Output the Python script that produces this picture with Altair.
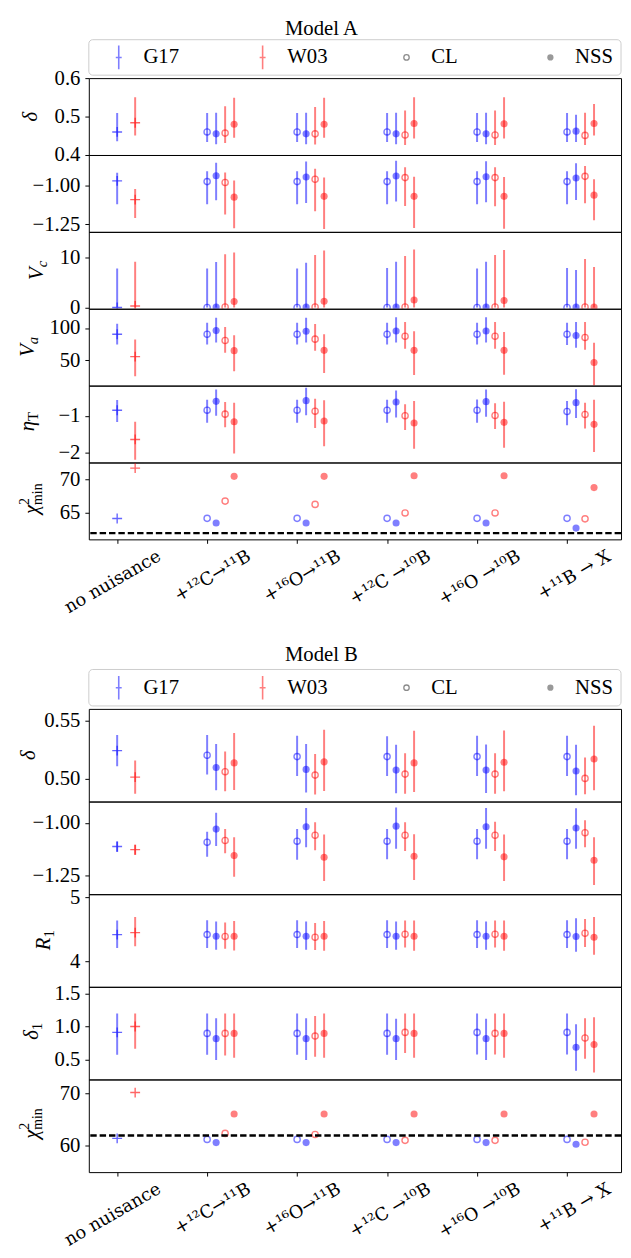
import json
import altair as alt
import pandas as pd

FONT = "Liberation Serif"
XFONT = "DejaVu Serif"
W = 540
H_A = 78
H_B = 94
X_DOMAIN = [-0.315, 5.6]
LEG_DOMAIN = [-0.208, 3.491]
REF_CHI2 = 62.0

categories = ["no nuisance", "+¹²C→¹¹B", "+¹⁶O→¹¹B", "+¹²C →¹⁰B", "+¹⁶O →¹⁰B", "+¹¹B → X"]
legend_labels = ["G17", "W03", "CL", "NSS"]
dataset_names = ["G17", "W03"]
dataset_colors = ["#0000ff", "#ff0000"]

# ---------------- Model A (center, low, high) ----------------
A_delta_nn = [(0.460, 0.436, 0.509), (0.484, 0.451, 0.550)]
A_delta_G17_CL = [(0.460, 0.434, 0.509)] * 5
A_delta_G17_NSS = [(0.455, 0.428, 0.510), (0.455, 0.428, 0.510), (0.455, 0.428, 0.510), (0.455, 0.428, 0.510), (0.462, 0.434, 0.505)]
A_delta_W03_CL = [(0.457, 0.431, 0.527), (0.455, 0.427, 0.525), (0.452, 0.426, 0.516), (0.452, 0.426, 0.516), (0.451, 0.426, 0.510)]
A_delta_W03_NSS = [(0.480, 0.445, 0.549), (0.480, 0.445, 0.549), (0.482, 0.443, 0.550), (0.481, 0.443, 0.550), (0.482, 0.451, 0.533)]

A_p2_nn = [(-0.968, -1.120, -0.916), (-1.090, -1.210, -1.021)]
A_p2_G17_CL = [(-0.973, -1.120, -0.905)] * 5
A_p2_G17_NSS = [(-0.935, -1.095, -0.851), (-0.943, -1.112, -0.842), (-0.937, -1.103, -0.838), (-0.941, -1.107, -0.840), (-0.950, -1.092, -0.853)]
A_p2_W03_CL = [(-0.979, -1.187, -0.914), (-0.958, -1.166, -0.889), (-0.947, -1.132, -0.880), (-0.947, -1.134, -0.880), (-0.939, -1.113, -0.872)]
A_p2_W03_NSS = [(-1.074, -1.277, -0.966), (-1.069, -1.282, -0.947), (-1.069, -1.275, -0.941), (-1.069, -1.279, -0.943), (-1.061, -1.225, -0.958)]

A_Vc_nn = [(0.0, 0.0, 7.8), (0.3, 0.0, 9.15)]
A_Vc_G17_CL = [(0.0, 0.0, 7.8), (0.0, 0.0, 7.8), (0.0, 0.0, 7.9), (0.0, 0.0, 7.8), (0.0, 0.0, 7.9)]
A_Vc_G17_NSS = [(0.1, 0.0, 9.1), (0.1, 0.0, 8.95), (0.1, 0.0, 9.15), (0.1, 0.0, 9.15), (0.1, 0.0, 7.5)]
A_Vc_W03_CL = [(0.1, 0.0, 10.65), (0.1, 0.0, 10.5), (0.1, 0.0, 10.3), (0.1, 0.0, 10.5), (0.1, 0.0, 9.7)]
A_Vc_W03_NSS = [(1.2, 0.0, 11.0), (1.25, 0.0, 11.4), (1.5, 0.0, 11.6), (1.4, 0.0, 11.5), (0.1, 0.0, 8.1)]

A_Va_nn = [(90.3, 74.5, 106.6), (55.6, 25.0, 82.1)]
A_Va_G17_CL = [(90.3, 74.5, 108.2), (90.3, 74.5, 108.2), (90.3, 74.5, 108.2), (90.3, 74.5, 108.2), (90.3, 73.5, 108.2)]
A_Va_G17_NSS = [(95.9, 77.6, 115.8), (94.9, 77.6, 115.8), (95.4, 77.6, 116.8), (95.4, 77.6, 116.8), (88.3, 69.4, 109.2)]
A_Va_W03_CL = [(80.6, 61.7, 101.5), (82.7, 64.8, 106.1), (87.2, 67.9, 109.2), (87.2, 67.9, 109.2), (85.2, 66.3, 109.2)]
A_Va_W03_NSS = [(64.8, 32.7, 88.8), (65.3, 30.1, 90.3), (65.3, 27.0, 94.9), (65.3, 27.5, 93.9), (46.4, 10.7, 77.0)]

A_eta_nn = [(-0.848, -1.170, -0.571), (-1.643, -2.196, -1.161)]
A_eta_G17_CL = [(-0.848, -1.188, -0.563), (-0.848, -1.188, -0.563), (-0.848, -1.188, -0.563), (-0.848, -1.188, -0.554), (-0.884, -1.259, -0.598)]
A_eta_G17_NSS = [(-0.607, -1.000, -0.286), (-0.589, -0.982, -0.241), (-0.625, -1.045, -0.313), (-0.616, -1.027, -0.286), (-0.643, -1.063, -0.277)]
A_eta_W03_CL = [(-0.955, -1.313, -0.625), (-0.875, -1.330, -0.536), (-1.000, -1.384, -0.688), (-0.991, -1.357, -0.661), (-0.964, -1.348, -0.643)]
A_eta_W03_NSS = [(-1.161, -2.027, -0.643), (-1.143, -1.830, -0.580), (-1.196, -1.893, -0.598), (-1.179, -1.866, -0.616), (-1.232, -1.982, -0.563)]

A_chi2_nn = [64.17, 71.67]
A_chi2_G17_CL = [64.2, 64.2, 64.2, 64.2, 64.2]
A_chi2_G17_NSS = [63.5, 63.5, 63.5, 63.5, 62.75]
A_chi2_W03_CL = [66.76, 66.27, 65.0, 65.0, 64.12]
A_chi2_W03_NSS = [70.44, 70.44, 70.54, 70.54, 68.77]

# ---------------- Model B ----------------
B_delta_nn = [(0.5241, 0.5108, 0.5375), (0.5014, 0.4872, 0.5156)]
B_delta_G17_CL = [(0.5202, 0.5037, 0.5375), (0.519, 0.5023, 0.5369), (0.519, 0.5023, 0.5366), (0.519, 0.5023, 0.5369), (0.519, 0.5023, 0.5369)]
B_delta_G17_NSS = [(0.5097, 0.4901, 0.5298), (0.5080, 0.4881, 0.5298), (0.5074, 0.4875, 0.5293), (0.5074, 0.4878, 0.5295), (0.5066, 0.4858, 0.5293)]
B_delta_W03_CL = [(0.5060, 0.4892, 0.5233), (0.5031, 0.4864, 0.5213), (0.5040, 0.4872, 0.5219), (0.5040, 0.4872, 0.5219), (0.5003, 0.4866, 0.5182)]
B_delta_W03_NSS = [(0.5136, 0.4903, 0.5392), (0.5145, 0.4895, 0.5420), (0.5136, 0.4886, 0.5412), (0.5142, 0.4892, 0.5415), (0.5170, 0.4901, 0.5455)]

B_p2_nn = [(-1.112, -1.138, -1.0885), (-1.127, -1.152, -1.104)]
B_p2_G17_CL = [(-1.092, -1.161, -1.042), (-1.087, -1.174, -1.030), (-1.087, -1.172, -1.030), (-1.087, -1.172, -1.030), (-1.087, -1.172, -1.030)]
B_p2_G17_NSS = [(-1.030, -1.110, -0.953), (-1.019, -1.116, -0.930), (-1.016, -1.123, -0.928), (-1.019, -1.123, -0.930), (-1.025, -1.123, -0.932)]
B_p2_W03_CL = [(-1.084, -1.144, -1.030), (-1.059, -1.130, -0.998), (-1.059, -1.133, -0.998), (-1.059, -1.133, -0.995), (-1.047, -1.116, -0.988)]
B_p2_W03_NSS = [(-1.155, -1.255, -1.068), (-1.163, -1.275, -1.056), (-1.158, -1.270, -1.054), (-1.161, -1.275, -1.056), (-1.177, -1.294, -1.068)]

B_R1_nn = [(4.418, 4.206, 4.639), (4.448, 4.237, 4.691)]
B_R1_G17_CL = [(4.418, 4.206, 4.644)] * 5
B_R1_G17_NSS = [(4.392, 4.180, 4.624), (4.392, 4.180, 4.624), (4.392, 4.180, 4.624), (4.392, 4.180, 4.624), (4.387, 4.149, 4.675)]
B_R1_W03_CL = [(4.387, 4.196, 4.608), (4.376, 4.175, 4.598), (4.423, 4.216, 4.639), (4.423, 4.216, 4.639), (4.438, 4.222, 4.660)]
B_R1_W03_NSS = [(4.392, 4.170, 4.629), (4.392, 4.165, 4.629), (4.392, 4.165, 4.639), (4.392, 4.165, 4.639), (4.376, 4.103, 4.691)]

B_delta1_nn = [(0.911, 0.574, 1.198), (1.000, 0.663, 1.198)]
B_delta1_G17_CL = [(0.896, 0.574, 1.198), (0.896, 0.574, 1.198), (0.896, 0.574, 1.198), (0.911, 0.579, 1.198), (0.911, 0.579, 1.198)]
B_delta1_G17_NSS = [(0.817, 0.495, 1.124), (0.817, 0.495, 1.124), (0.817, 0.495, 1.119), (0.817, 0.495, 1.119), (0.688, 0.332, 1.035)]
B_delta1_W03_CL = [(0.896, 0.564, 1.198), (0.856, 0.545, 1.158), (0.911, 0.599, 1.198), (0.896, 0.579, 1.198), (0.827, 0.515, 1.124)]
B_delta1_W03_NSS = [(0.896, 0.530, 1.198), (0.896, 0.530, 1.198), (0.896, 0.530, 1.198), (0.896, 0.530, 1.198), (0.728, 0.307, 1.139)]

B_chi2_nn = [61.44, 70.2]
B_chi2_G17_CL = [61.25, 61.25, 61.25, 61.25, 61.25]
B_chi2_G17_NSS = [60.64, 60.64, 60.64, 60.64, 60.32]
B_chi2_W03_CL = [62.4, 62.2, 61.07, 61.07, 60.7]
B_chi2_W03_NSS = [66.1, 66.1, 66.1, 66.1, 66.1]


def build(nn, g_cl, g_nss, w_cl, w_nss):
    rows = []

    def add(x, ds, kind, val):
        if isinstance(val, (tuple, list)):
            c, lo, hi = val
        else:
            c, lo, hi = val, None, None
        rows.append({"x": x, "ds": ds, "kind": kind, "v": c, "lo": lo, "hi": hi})

    add(0.0, "G17", "nn", nn[0])
    add(0.2, "W03", "nn", nn[1])
    for ds, kind, off, series in [("G17", "CL", 0.0, g_cl), ("G17", "NSS", 0.1, g_nss),
                                  ("W03", "CL", 0.2, w_cl), ("W03", "NSS", 0.3, w_nss)]:
        for i, val in enumerate(series):
            add(i + 1 + off, ds, kind, val)
    return pd.DataFrame(rows)


label_expr = json.dumps(categories, ensure_ascii=False) + "[datum.value]"

X_AXIS = alt.Axis(values=list(range(6)), labelExpr=label_expr, labelAngle=330, labelAlign="right",
                  labelBaseline="alphabetic", labelOffset=45, labelPadding=16, labelFontSize=18,
                  labelFont=XFONT, labelOverlap=False, labelFlush=False, tickSize=4, domain=False,
                  grid=False, title=None)

COLOR = alt.Color("ds:N", scale=alt.Scale(domain=dataset_names, range=dataset_colors), legend=None)
PLUS = "M-1,0L1,0M0,-1L0,1"


def title_layers(parts, bx, h, shift):
    out = []
    for text, fs, style, align, dy in parts:
        out.append(
            alt.Chart(pd.DataFrame({"t": [text]})).mark_text(
                angle=270, align=align, baseline="alphabetic", font=FONT, fontSize=fs,
                fontStyle=style, dx=shift, dy=dy, color="black"
            ).encode(x=alt.value(bx), y=alt.value(h / 2), text="t:N")
        )
    return out


def panel(df, domain, ticks, fmt, h, title=None, bottom=False, ref=None):
    xenc = alt.X("x:Q", scale=alt.Scale(domain=X_DOMAIN, nice=False, zero=False),
                 axis=X_AXIS if bottom else None)
    ysc = alt.Scale(domain=domain, nice=False, zero=False)
    yaxis = alt.Axis(values=ticks, format=fmt, title=None)
    base = alt.Chart(df)
    layers = [
        base.transform_filter("datum.lo != null").mark_rule(strokeWidth=2, opacity=0.5, clip=True).encode(
            x=xenc, y=alt.Y("lo:Q", scale=ysc, axis=yaxis), y2="hi:Q", color=COLOR),
        base.transform_filter("datum.kind == 'CL'").mark_point(
            filled=False, size=40, strokeWidth=1.4, opacity=0.5, clip=True).encode(
            x=xenc, y=alt.Y("v:Q", scale=ysc, axis=yaxis), color=COLOR),
        base.transform_filter("datum.kind == 'NSS'").mark_circle(size=52, opacity=0.5, clip=True).encode(
            x=xenc, y=alt.Y("v:Q", scale=ysc, axis=yaxis), color=COLOR),
        base.transform_filter("datum.kind == 'nn'").mark_point(
            shape=PLUS, filled=False, size=100, strokeWidth=1.4, opacity=0.6, clip=True).encode(
            x=xenc, y=alt.Y("v:Q", scale=ysc, axis=yaxis), color=COLOR),
    ]
    if ref is not None:
        layers.append(
            alt.Chart(pd.DataFrame({"r": [ref]})).mark_rule(
                color="black", strokeWidth=2.5, strokeDash=[6.5, 3]).encode(
                y=alt.Y("r:Q", scale=ysc, axis=yaxis)))
    if title is not None:
        parts, bx, shift = title
        layers += title_layers(parts, bx, h, shift)
    return alt.layer(*layers).properties(width=W, height=h)


def header(title, h, title_y, box_y0, box_y1, title_x):
    leg = pd.DataFrame({"label": legend_labels, "i": list(range(len(legend_labels)))})
    xs = alt.X("i:Q", scale=alt.Scale(domain=LEG_DOMAIN, nice=False, zero=False), axis=None)
    ymid = (box_y0 + box_y1) / 2
    box = alt.Chart(pd.DataFrame({"a": [0]})).mark_rect(
        fill="white", stroke="#cccccc", strokeWidth=1, cornerRadius=4).encode(
        x=alt.value(0), x2=alt.value(W), y=alt.value(box_y0), y2=alt.value(box_y1))
    ttl = alt.Chart(pd.DataFrame({"t": [title]})).mark_text(
        font=FONT, fontSize=21, baseline="alphabetic", align="center", color="black").encode(
        x=alt.value(title_x), y=alt.value(title_y), text="t:N")
    bars = alt.Chart(leg).transform_filter("datum.i < 2").mark_point(
        shape="M0,-1L0,1M-0.25,0L0.25,0", filled=False, size=576, strokeWidth=1.6, opacity=0.5).encode(
        x=xs, y=alt.value(ymid),
        color=alt.Color("label:N", scale=alt.Scale(domain=dataset_names, range=dataset_colors), legend=None))
    cl = alt.Chart(leg).transform_filter("datum.label == 'CL'").mark_point(
        filled=False, size=30, strokeWidth=1.3, color="black", opacity=0.45).encode(x=xs, y=alt.value(ymid))
    nss = alt.Chart(leg).transform_filter("datum.label == 'NSS'").mark_circle(
        size=40, color="black", opacity=0.4).encode(x=xs, y=alt.value(ymid))
    txt = alt.Chart(leg).mark_text(align="left", baseline="middle", dx=25, font=FONT, fontSize=21,
                                   color="black").encode(x=xs, y=alt.value(ymid), text="label:N")
    return alt.layer(box, ttl, bars, cl, nss, txt).properties(
        width=W, height=h, view=alt.ViewBackground(stroke="transparent"))


IT = "italic"
NO = "normal"
T_delta = ([("δ", 21, IT, "center", 0)], -53, 0)
T_Vc = ([("V", 21, IT, "right", 0), ("c", 15, IT, "left", 4)], -46, 3)
T_Va = ([("V", 21, IT, "right", 0), ("a", 15, IT, "left", 4)], -56, 3)
T_eta = ([("η", 21, IT, "right", 0), ("T", 15, NO, "left", 4)], -56, 3)
T_chi = ([("χ", 21, IT, "right", 0), ("2", 14, NO, "left", -9), ("min", 14, NO, "left", 5)], -52, -4)
T_deltaB = ([("δ", 21, IT, "center", 0)], -55, 0)
T_R1 = ([("R", 21, IT, "right", 0), ("1", 15, NO, "left", 4)], -39, 3)
T_delta1 = ([("δ", 21, IT, "right", 0), ("1", 15, NO, "left", 4)], -52, 3)

panels_A = [
    panel(build(A_delta_nn, A_delta_G17_CL, A_delta_G17_NSS, A_delta_W03_CL, A_delta_W03_NSS),
          [0.4, 0.6], [0.4, 0.5, 0.6], ".1f", H_A, T_delta),
    panel(build(A_p2_nn, A_p2_G17_CL, A_p2_G17_NSS, A_p2_W03_CL, A_p2_W03_NSS),
          [-1.30, -0.80], [-1.25, -1.0], ".2f", H_A),
    panel(build(A_Vc_nn, A_Vc_G17_CL, A_Vc_G17_NSS, A_Vc_W03_CL, A_Vc_W03_NSS),
          [-0.25, 15.1], [0, 10], "d", H_A, T_Vc),
    panel(build(A_Va_nn, A_Va_G17_CL, A_Va_G17_NSS, A_Va_W03_CL, A_Va_W03_NSS),
          [10.6, 129.8], [50, 100], "d", H_A, T_Va),
    panel(build(A_eta_nn, A_eta_G17_CL, A_eta_G17_NSS, A_eta_W03_CL, A_eta_W03_NSS),
          [-2.27, -0.18], [-2, -1], "d", H_A, T_eta),
    panel(build(A_chi2_nn, A_chi2_G17_CL, A_chi2_G17_NSS, A_chi2_W03_CL, A_chi2_W03_NSS),
          [61.07, 72.5], [65, 70], "d", H_A, T_chi, bottom=True, ref=REF_CHI2),
]

panels_B = [
    panel(build(B_delta_nn, B_delta_G17_CL, B_delta_G17_NSS, B_delta_W03_CL, B_delta_W03_NSS),
          [0.4804, 0.560], [0.50, 0.55], ".2f", H_B, T_deltaB),
    panel(build(B_p2_nn, B_p2_G17_CL, B_p2_G17_NSS, B_p2_W03_CL, B_p2_W03_NSS),
          [-1.337, -0.900], [-1.25, -1.0], ".2f", H_B),
    panel(build(B_R1_nn, B_R1_G17_CL, B_R1_G17_NSS, B_R1_W03_CL, B_R1_W03_NSS),
          [3.6, 5.05], [4, 5], "d", H_B, T_R1),
    panel(build(B_delta1_nn, B_delta1_G17_CL, B_delta1_G17_NSS, B_delta1_W03_CL, B_delta1_W03_NSS),
          [0.2, 1.6], [0.5, 1.0, 1.5], ".1f", H_B, T_delta1),
    panel(build(B_chi2_nn, B_chi2_G17_CL, B_chi2_G17_NSS, B_chi2_W03_CL, B_chi2_W03_NSS),
          [55.0, 72.7], [60, 70], "d", H_B, T_chi, bottom=True, ref=REF_CHI2),
]

# header heights span from the previous plot area (flush layout) to the next one
head_A = header("Model A", 61, 17, 22, 58, 236)
head_B = header("Model B", 172, 123, 132, 169, 236)

chart = alt.vconcat(head_A, *panels_A, head_B, *panels_B, spacing=0, bounds="flush").properties(
    padding={"left": 8, "top": 0, "right": 0, "bottom": 0}
).configure_view(stroke="black", strokeWidth=1).configure_axis(
    labelFont=FONT, labelFontSize=21, labelColor="black", tickColor="black", tickSize=4,
    labelPadding=5, domain=False, grid=False
)

chart.save("out.html", embed_options={"renderer": "svg", "actions": False})
